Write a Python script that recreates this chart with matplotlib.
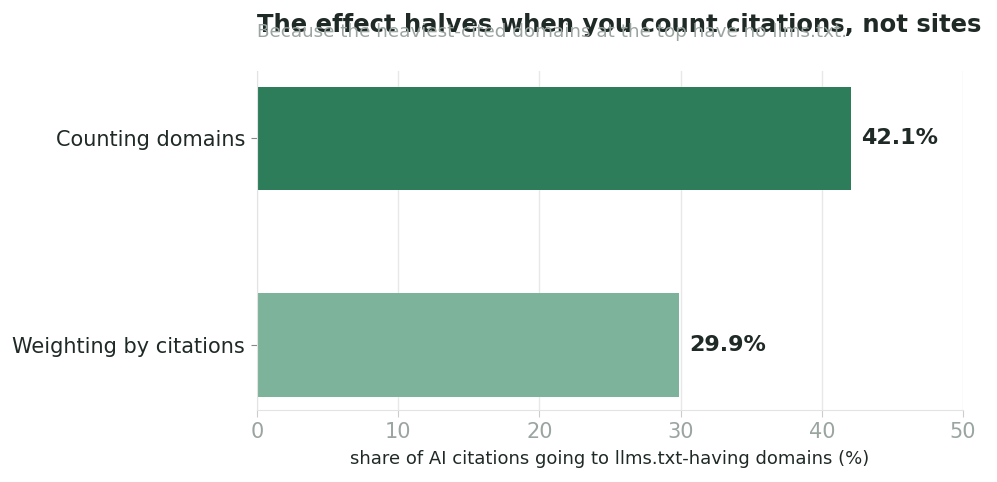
import matplotlib.pyplot as plt

categories = ["Weighting by citations", "Counting domains"]
shares = [29.9, 42.1]
bar_colors = ["#7db39a", "#2e7d5a"]
x_ticks = [0, 10, 20, 30, 40, 50]

dark = "#1f2a26"
gray = "#9aa5a0"

fig = plt.figure(figsize=(9.97, 4.82), dpi=100)
ax = fig.add_axes([257 / 997, 1 - 410 / 482, (963 - 257) / 997, (410 - 71) / 482])

ax.barh(categories, shares, height=0.5, color=bar_colors, zorder=2)

# value labels to the right of each bar
for i, v in enumerate(shares):
    ax.text(v + 0.7, i, f"{v}%", va="center", ha="left",
            fontsize=16, fontweight="bold", color=dark)

ax.set_xlim(0, 50)
ax.set_ylim(-0.315, 1.325)
ax.set_xticks(x_ticks)
ax.grid(axis="x", color="#e8e8e8", linewidth=1, zorder=0)
ax.set_axisbelow(True)

for s in ["top", "right"]:
    ax.spines[s].set_visible(False)
for s in ["left", "bottom"]:
    ax.spines[s].set_color("#e3e3e3")

ax.tick_params(axis="x", colors="#cccccc", labelcolor=gray, labelsize=15, length=5)
ax.tick_params(axis="y", colors="#888888", labelcolor=dark, labelsize=15, length=4, pad=4.5)
ax.set_xlabel("share of AI citations going to llms.txt-having domains (%)",
              fontsize=13, color=dark, labelpad=6)

fig.text(257 / 997, 1 - 25 / 482, "The effect halves when you count citations, not sites",
         fontsize=17.5, fontweight="bold", color=dark, ha="left", va="center")
fig.text(257 / 997, 1 - 32 / 482, "Because the heaviest-cited domains at the top have no llms.txt.",
         fontsize=13.2, color=gray, ha="left", va="center")

fig.savefig("out.png", dpi=100)
